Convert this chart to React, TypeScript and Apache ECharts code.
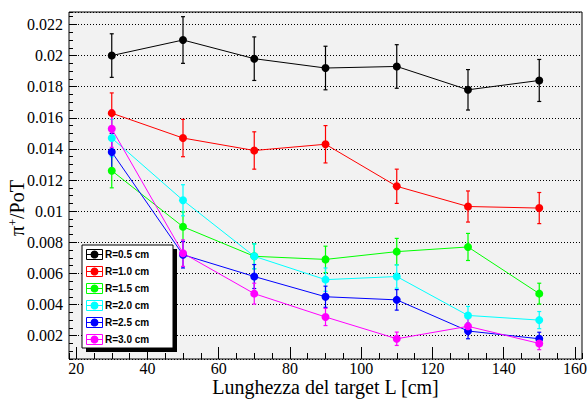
import { useEffect, useRef } from "react";
import * as echarts from "echarts";

// Target lengths (cm) at which the pion yield was evaluated
const targetLengths = [30, 50, 70, 90, 110, 130, 150];

const radiusLabels = ["R=0.5 cm", "R=1.0 cm", "R=1.5 cm", "R=2.0 cm", "R=2.5 cm", "R=3.0 cm"];
const radiusColors = ["#000000", "#ff0000", "#00ff00", "#00ffff", "#0000ff", "#ff00ff"];

// pi+ per proton on target, one array per target radius
const pionsR05 = [0.02, 0.021, 0.0198, 0.0192, 0.0193, 0.0178, 0.0184];
const pionsR10 = [0.0163, 0.0147, 0.0139, 0.0143, 0.0116, 0.0103, 0.0102];
const pionsR15 = [0.0126, 0.009, 0.0071, 0.0069, 0.0074, 0.0077, 0.0047];
const pionsR20 = [0.0147, 0.0107, 0.0071, 0.0056, 0.0058, 0.0033, 0.003];
const pionsR25 = [0.0138, 0.0072, 0.0058, 0.0045, 0.0043, 0.0023, 0.0018];
const pionsR30 = [0.0153, 0.0073, 0.0047, 0.0032, 0.0018, 0.0026, 0.0015];

// Statistical uncertainties on the yields above
const errR05 = [0.0014, 0.0015, 0.0014, 0.0014, 0.0014, 0.0013, 0.00135];
const errR10 = [0.0013, 0.0012, 0.0012, 0.0012, 0.0011, 0.001, 0.001];
const errR15 = [0.0011, 0.00095, 0.0008, 0.00085, 0.00085, 0.00087, 0.00067];
const errR20 = [0.0012, 0.001, 0.0008, 0.00075, 0.00075, 0.00058, 0.00055];
const errR25 = [0.0012, 0.00085, 0.00077, 0.00068, 0.00066, 0.0005, 0.00042];
const errR30 = [0.0012, 0.00085, 0.00067, 0.00055, 0.00043, 0.0005, 0.0004];

const yieldSets = [pionsR05, pionsR10, pionsR15, pionsR20, pionsR25, pionsR30];
const errorSets = [errR05, errR10, errR15, errR20, errR25, errR30];

const SERIF = "Liberation Serif";
const SANS = "Liberation Sans";

// Tick label style, applied through a rich token so the serif face is used
const tickRich = { v: { fontFamily: SERIF, fontSize: 16, lineHeight: 15, color: "#000" } };

function buildOption() {
  const series: any[] = [];
  yieldSets.forEach((vals, i) => {
    const color = radiusColors[i];
    const errs = errorSets[i];
    series.push({
      type: "custom",
      name: radiusLabels[i] + " err",
      xAxisIndex: 0,
      yAxisIndex: 0,
      encode: { x: 0, y: 1 },
      data: targetLengths.map((x, k) => [x, vals[k], errs[k]]),
      renderItem: (_params: any, api: any) => {
        const x = api.value(0);
        const y = api.value(1);
        const e = api.value(2);
        const top = api.coord([x, y + e]);
        const bot = api.coord([x, y - e]);
        const cap = 2;
        const st = { stroke: color, lineWidth: 1.2 };
        return {
          type: "group",
          children: [
            { type: "line", shape: { x1: top[0], y1: top[1], x2: bot[0], y2: bot[1] }, style: st },
            { type: "line", shape: { x1: top[0] - cap, y1: top[1], x2: top[0] + cap, y2: top[1] }, style: st },
            { type: "line", shape: { x1: bot[0] - cap, y1: bot[1], x2: bot[0] + cap, y2: bot[1] }, style: st },
          ],
        };
      },
    });
    series.push({
      type: "line",
      name: radiusLabels[i],
      xAxisIndex: 0,
      yAxisIndex: 0,
      data: targetLengths.map((x, k) => [x, vals[k]]),
      symbol: "circle",
      symbolSize: 8,
      showAllSymbol: true,
      lineStyle: { color, width: 1 },
      itemStyle: { color },
      emphasis: { disabled: true },
    });
  });

  // Legend box with drop shadow, drawn above the graphs
  const lx = 82;
  const ly = 245;
  const lw = 91;
  const lh = 103;
  const rowH = lh / radiusLabels.length;
  const Z = 100;
  const legendChildren: any[] = [
    { type: "rect", z: Z, shape: { x: lx + 4, y: ly + 4, width: lw, height: lh }, style: { fill: "#000" } },
    { type: "rect", z: Z, shape: { x: lx, y: ly, width: lw, height: lh }, style: { fill: "#fff", stroke: "#000", lineWidth: 1 } },
  ];
  radiusLabels.forEach((label, i) => {
    const cy = Math.round(ly + rowH * (i + 0.5)) + 0.5;
    const c = radiusColors[i];
    legendChildren.push(
      { type: "rect", z: Z, shape: { x: lx + 4.5, y: cy - 5, width: 16, height: 10 }, style: { fill: "none", stroke: c, lineWidth: 1 } },
      { type: "line", z: Z, shape: { x1: lx + 4.5, y1: cy, x2: lx + 20.5, y2: cy }, style: { stroke: c, lineWidth: 1 } },
      { type: "circle", z: Z, shape: { cx: lx + 12.5, cy, r: 4 }, style: { fill: c } },
      {
        type: "text",
        z: Z,
        x: lx + 23,
        y: cy,
        style: {
          text: label,
          fontFamily: SANS,
          fontWeight: "bold",
          fontSize: 10,
          fill: "#000",
          verticalAlign: "middle",
          align: "left",
        },
      }
    );
  });

  return {
    animation: false,
    backgroundColor: "#ffffff",
    textStyle: { fontFamily: SERIF },
    grid: {
      left: 69,
      top: 12,
      right: 5,
      bottom: 46,
      show: true,
      backgroundColor: "#f2f2f2",
      borderColor: "#000",
      borderWidth: 1,
      containLabel: false,
      outerBoundsMode: "none",
    },
    xAxis: [
      {
        type: "value",
        min: 18,
        max: 162,
        splitNumber: 7,
        minInterval: 20,
        maxInterval: 20,
        axisLine: { show: false },
        axisTick: { show: true, inside: true, length: 12, lineStyle: { color: "#000", width: 1 } },
        axisLabel: {
          showMinLabel: false,
          showMaxLabel: false,
          fontFamily: SERIF,
          fontSize: 16,
          color: "#000",
          margin: 2,
          formatter: (v: number) => `{v|${+v.toFixed(4)}}`,
          rich: tickRich,
        },
        splitLine: { show: false },
        name: "Lunghezza del target L [cm]",
        nameLocation: "middle",
        nameGap: 18,
        nameMoveOverlap: false,
        nameTextStyle: { fontFamily: SERIF, fontSize: 20, lineHeight: 20, color: "#000", verticalAlign: "top" },
      },
      {
        type: "value",
        position: "bottom",
        min: 18,
        max: 162,
        splitNumber: 28,
        minInterval: 5,
        maxInterval: 5,
        axisLine: { show: false },
        axisTick: { show: true, inside: true, length: 6, lineStyle: { color: "#000", width: 1 } },
        axisLabel: { show: false },
        splitLine: { show: false },
      },
    ],
    yAxis: [
      {
        type: "value",
        min: 0.0005,
        max: 0.0228,
        splitNumber: 11,
        minInterval: 0.002,
        maxInterval: 0.002,
        axisLine: { show: false },
        axisTick: { show: true, inside: true, length: 8, lineStyle: { color: "#000", width: 1 } },
        axisLabel: {
          showMinLabel: false,
          showMaxLabel: false,
          fontFamily: SERIF,
          fontSize: 16,
          color: "#000",
          margin: 6,
          formatter: (v: number) => `{v|${+v.toFixed(4)}}`,
          rich: tickRich,
        },
        splitLine: { show: true, lineStyle: { color: "#000", width: 1, type: [1, 2] } },
      },
      {
        type: "value",
        position: "left",
        min: 0.0005,
        max: 0.0228,
        splitNumber: 45,
        minInterval: 0.0005,
        maxInterval: 0.0005,
        axisLine: { show: false },
        axisTick: { show: true, inside: true, length: 4, lineStyle: { color: "#000", width: 1 } },
        axisLabel: { show: false },
        splitLine: { show: false },
      },
    ],
    graphic: [
      {
        type: "text",
        x: 17,
        y: 208,
        rotation: Math.PI / 2,
        z: 100,
        style: {
          text: "{a|π}{b|+}{a|/PoT}",
          align: "center",
          verticalAlign: "middle",
          rich: {
            a: { fontFamily: SERIF, fontSize: 20, fill: "#000" },
            b: { fontFamily: SERIF, fontSize: 12, fill: "#000", verticalAlign: "top" },
          },
        },
      },
      { type: "group", z: 100, children: legendChildren },
    ],
    series,
  };
}

export default function App() {
  const ref = useRef<HTMLDivElement>(null);
  useEffect(() => {
    if (!ref.current) return;
    const chart = echarts.init(ref.current, null, { renderer: "svg" });
    chart.setOption(buildOption() as any);
    return () => chart.dispose();
  }, []);
  return (
    <div
      ref={ref}
      style={{ position: "absolute", left: 0, top: 0, width: 587, height: 405, background: "#fff" }}
    />
  );
}
